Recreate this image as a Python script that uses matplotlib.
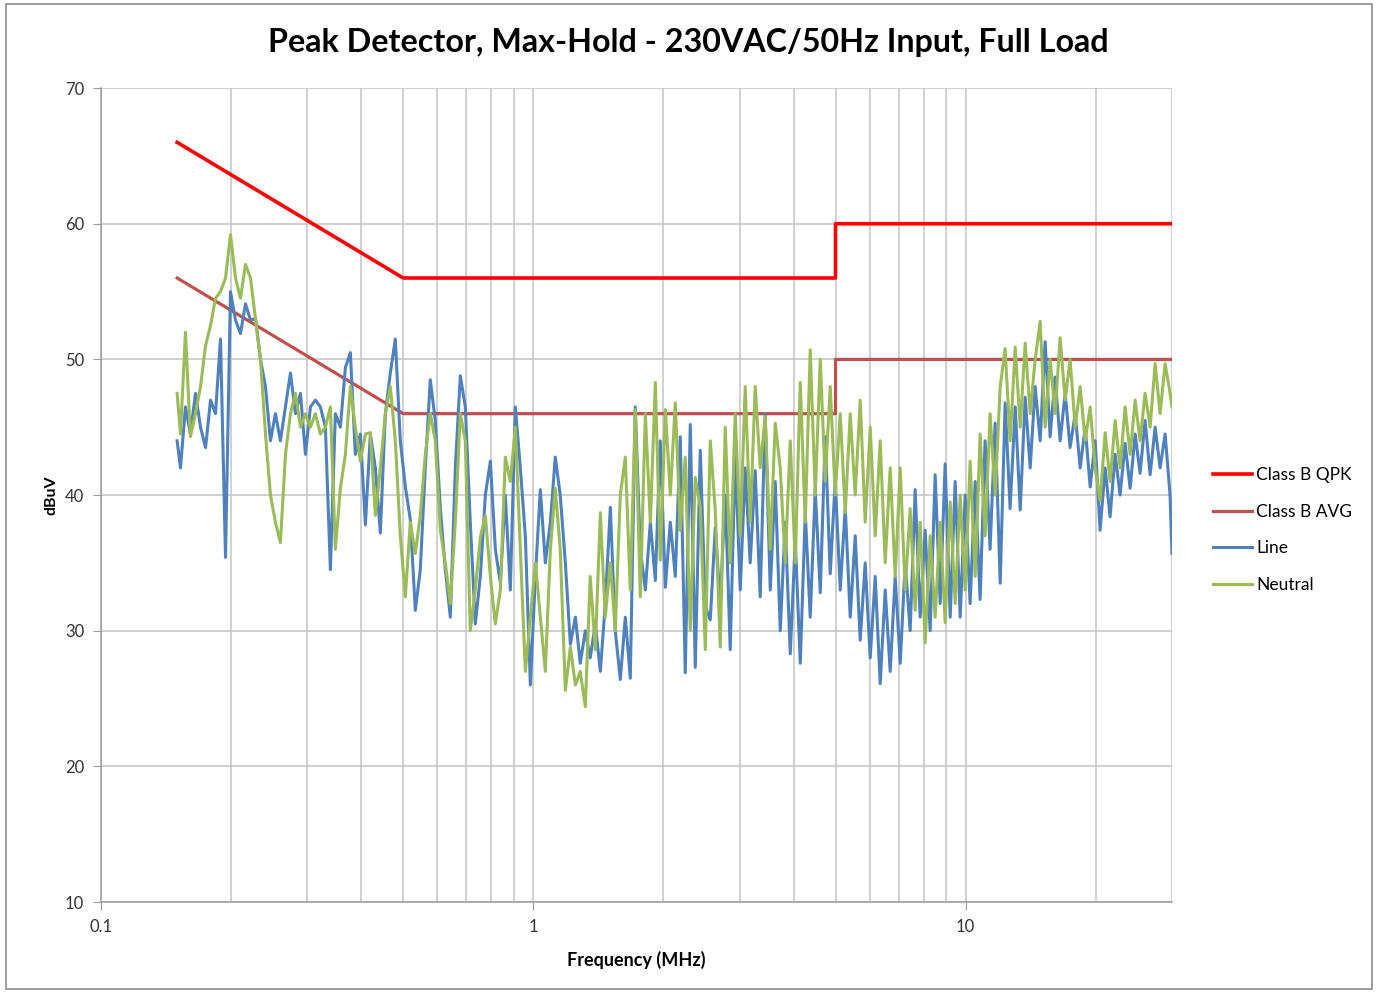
import numpy as np
import matplotlib.pyplot as plt
from matplotlib.patches import Rectangle
from matplotlib.ticker import FixedLocator, NullFormatter, FixedFormatter

plt.rcParams['font.family'] = ['Lato', 'DejaVu Sans']

# limit lines (EN55022 class B)
qpk_freq = [0.15, 0.5, 5.0, 5.0, 30.0]
qpk_dbuv = [66, 56, 56, 60, 60]
avg_freq = [0.15, 0.5, 5.0, 5.0, 30.0]
avg_dbuv = [56, 46, 46, 50, 50]

# scan frequencies (MHz)
freq_mhz = [
    0.150,
    0.1527, 0.1568, 0.1610, 0.1654, 0.1699, 0.1745, 0.1792, 0.1840, 0.1890, 0.1941,
    0.1993, 0.2047, 0.2102, 0.2159, 0.2217, 0.2277, 0.2338, 0.2401, 0.2466, 0.2532,
    0.2600, 0.2671, 0.2743, 0.2817, 0.2893, 0.2971, 0.3051, 0.3133, 0.3217, 0.3304,
    0.3393, 0.3484, 0.3578, 0.3675, 0.3774, 0.3875, 0.3981, 0.4088, 0.4198, 0.4311,
    0.4427, 0.4547, 0.4669, 0.4795, 0.4924, 0.5058, 0.5193, 0.5334, 0.5477, 0.5625,
    0.5776, 0.5932, 0.6095, 0.6258, 0.6427, 0.6600, 0.6778, 0.6961, 0.7148, 0.7341,
    0.7541, 0.7745, 0.7954, 0.8168, 0.8389, 0.8615, 0.8847, 0.9086, 0.9331, 0.9583,
    0.9842, 1.011, 1.038, 1.066, 1.095, 1.124, 1.154, 1.186, 1.218, 1.251,
    1.284, 1.319, 1.354, 1.391, 1.429, 1.467, 1.507, 1.547, 1.589, 1.632,
    1.676, 1.721, 1.768, 1.816, 1.865, 1.915, 1.966, 2.020, 2.074, 2.130,
    2.187, 2.246, 2.307, 2.369, 2.433, 2.499, 2.566, 2.635, 2.706, 2.779,
    2.854, 2.931, 3.010, 3.091, 3.174, 3.260, 3.348, 3.438, 3.532, 3.627,
    3.725, 3.825, 3.929, 4.035, 4.144, 4.256, 4.370, 4.488, 4.610, 4.733,
    4.861, 4.993, 5.127, 5.266, 5.407, 5.553, 5.703, 5.856, 6.015, 6.177,
    6.343, 6.515, 6.690, 6.871, 7.057, 7.246, 7.441, 7.642, 7.848, 8.060,
    8.277, 8.500, 8.730, 8.966, 9.209, 9.456, 9.712, 9.973, 10.24, 10.52,
    10.80, 11.09, 11.39, 11.70, 12.02, 12.34, 12.67, 13.02, 13.37, 13.73,
    14.10, 14.48, 14.87, 15.27, 15.68, 16.10, 16.54, 16.99, 17.44, 17.92,
    18.40, 18.90, 19.41, 19.93, 20.46, 21.02, 21.58, 22.17, 22.76, 23.38,
    24.01, 24.66, 25.32, 26.00, 26.71, 27.43, 28.17, 28.93, 29.70,
    30.0,
]

line_dbuv = [
    44.0,
    42.0, 46.5, 44.5, 47.5, 45.0, 43.5, 47.0, 46.0, 51.5, 35.4,
    55.0, 52.9, 51.9, 54.1, 52.9, 53.0, 50.0, 48.0, 44.0, 46.0,
    44.0, 46.5, 49.0, 46.0, 47.5, 43.0, 46.5, 47.0, 46.5, 45.0,
    34.5, 46.0, 45.0, 49.4, 50.5, 43.0, 44.5, 37.8, 44.5, 42.0,
    37.2, 46.0, 49.0, 51.5, 44.0, 40.6, 38.2, 31.5, 34.5, 42.0,
    48.5, 45.5, 39.0, 34.5, 31.0, 42.0, 48.8, 46.5, 38.0, 30.5,
    34.0, 40.0, 42.5, 36.0, 33.5, 40.0, 33.0, 46.5, 42.0, 37.0,
    26.0, 34.0, 40.4, 35.0, 38.0, 42.8, 40.0, 35.0, 29.0, 31.0,
    27.6, 30.0, 28.0, 30.5, 27.0, 32.0, 39.1, 30.0, 26.4, 31.0,
    26.5, 46.5, 36.0, 33.0, 38.0, 33.7, 44.0, 33.2, 38.0, 34.0,
    44.3, 26.9, 45.2, 27.3, 43.3, 31.8, 30.8, 37.6, 32.0, 40.0,
    28.6, 43.0, 33.0, 42.0, 35.0, 41.8, 32.5, 46.0, 33.0, 41.0,
    30.0, 38.0, 28.3, 36.7, 27.6, 38.7, 31.0, 40.4, 32.8, 44.3,
    34.2, 41.1, 33.0, 39.1, 31.0, 37.0, 29.3, 35.0, 28.0, 34.0,
    26.1, 33.0, 27.0, 34.0, 27.6, 35.0, 30.0, 40.4, 31.0, 37.4,
    30.0, 41.5, 32.0, 42.3, 31.0, 41.0, 31.0, 40.0, 32.0, 41.0,
    32.3, 44.0, 36.0, 45.3, 33.5, 46.8, 39.0, 46.5, 38.9, 47.2,
    42.0, 48.0, 44.0, 51.3, 44.3, 48.7, 44.0, 47.5, 43.5, 46.0,
    42.0, 45.0, 40.6, 44.0, 37.4, 42.0, 38.4, 43.0, 40.0, 43.8,
    40.5, 44.5, 41.6, 45.5, 41.5, 45.0, 42.0, 44.5, 40.0,
    35.7,
]

neutral_dbuv = [
    47.5,
    44.5, 52.0, 44.3, 46.0, 48.0, 51.0, 52.5, 54.5, 55.0, 56.0,
    59.2, 56.0, 54.5, 57.0, 56.0, 53.0, 50.0, 44.5, 40.0, 38.0,
    36.5, 43.0, 46.0, 47.5, 45.0, 46.0, 45.0, 46.0, 44.5, 45.0,
    46.5, 36.0, 40.5, 43.0, 48.0, 45.0, 42.5, 44.5, 44.6, 38.5,
    42.0, 46.0, 48.0, 44.0, 37.0, 32.5, 38.0, 35.7, 38.5, 43.0,
    46.0, 44.0, 37.4, 35.0, 32.0, 38.0, 46.0, 44.0, 30.0, 33.0,
    36.9, 38.5, 34.0, 30.5, 33.0, 42.8, 41.0, 45.0, 36.0, 27.0,
    31.0, 35.0, 31.0, 27.0, 36.0, 40.5, 36.0, 25.6, 28.8, 26.0,
    27.0, 24.4, 34.0, 28.6, 38.7, 31.0, 35.0, 30.0, 40.0, 42.8,
    33.0, 46.3, 32.5, 46.0, 38.0, 48.3, 35.2, 46.3, 40.0, 46.8,
    37.4, 42.8, 30.0, 41.3, 39.1, 28.6, 44.0, 38.9, 28.8, 45.0,
    35.0, 46.0, 37.0, 48.0, 38.0, 48.0, 42.0, 45.8, 36.0, 45.3,
    42.0, 35.0, 44.0, 35.0, 48.3, 38.0, 50.7, 40.0, 50.0, 41.0,
    48.0, 40.0, 46.0, 38.7, 46.0, 40.0, 47.0, 38.0, 45.0, 37.0,
    44.0, 35.0, 42.0, 34.0, 42.0, 33.0, 39.0, 31.5, 38.0, 29.1,
    37.0, 31.0, 38.0, 30.6, 39.5, 32.0, 40.0, 33.0, 42.5, 34.0,
    44.5, 37.0, 46.0, 40.0, 48.0, 50.8, 44.0, 50.9, 45.0, 51.2,
    46.0, 50.0, 52.8, 45.0, 50.0, 46.0, 51.6, 47.0, 50.0, 45.0,
    48.0, 44.0, 46.5, 42.0, 39.6, 44.6, 41.0, 45.5, 42.0, 46.5,
    43.0, 47.0, 44.0, 47.5, 45.0, 49.7, 46.0, 49.7, 47.5,
    46.5,
]

fig = plt.figure(figsize=(13.76, 9.93), dpi=100)
fig.patches.append(Rectangle((0.004, 0.004), 0.993, 0.992, transform=fig.transFigure,
                             fill=False, edgecolor='#8c8c8c', linewidth=1.2))
ax = fig.add_axes([0.0734, 0.0916, 0.7783, 0.8197])

ax.plot(qpk_freq, qpk_dbuv, color='#ff0000', lw=2.6, label='Class B QPK')
ax.plot(avg_freq, avg_dbuv, color='#c0504d', lw=2.3, label='Class B AVG')
ax.plot(freq_mhz, line_dbuv, color='#4f81bd', lw=2.2, label='Line')
ax.plot(freq_mhz, neutral_dbuv, color='#9bbb59', lw=2.2, label='Neutral')

ax.set_xscale('log')
ax.set_xlim(0.1, 30)
ax.set_ylim(10, 70)
ax.set_yticks(np.arange(10, 71, 10))
ax.xaxis.set_major_locator(FixedLocator([0.1, 1, 10]))
ax.xaxis.set_major_formatter(FixedFormatter(['0.1', '1', '10']))
minor = [m * d for d in (0.1, 1, 10) for m in range(2, 10) if m * d <= 30]
ax.xaxis.set_minor_locator(FixedLocator(minor))
ax.xaxis.set_minor_formatter(NullFormatter())

ax.grid(True, which='both', axis='x', color='#c4c4c4', lw=1.1)
ax.grid(True, which='major', axis='y', color='#c4c4c4', lw=1.1)
ax.set_axisbelow(True)
for s in ('top', 'right'):
    ax.spines[s].set_visible(False)
for s in ('left', 'bottom'):
    ax.spines[s].set_color('#9a9a9a')
    ax.spines[s].set_linewidth(1.1)
ax.tick_params(axis='both', which='major', length=6, color='#9a9a9a',
               labelsize=12, labelcolor='#333333', pad=6)
ax.tick_params(axis='x', which='minor', length=0)

fig.text(0.5, 0.9577, 'Peak Detector, Max-Hold - 230VAC/50Hz Input, Full Load',
         fontsize=23.2, fontweight='bold', ha='center', va='center')
ax.set_xlabel('Frequency (MHz)', fontsize=13, fontweight='bold', labelpad=12)
ax.set_ylabel('dBuV', fontsize=11.5, fontweight='bold', labelpad=5)

ax.legend(loc='center left', bbox_to_anchor=(1.0235, 0.457), frameon=False,
          fontsize=12.5, handlelength=2.25, handletextpad=0.25, labelspacing=1.18)

fig.savefig('out.png', dpi=100)
